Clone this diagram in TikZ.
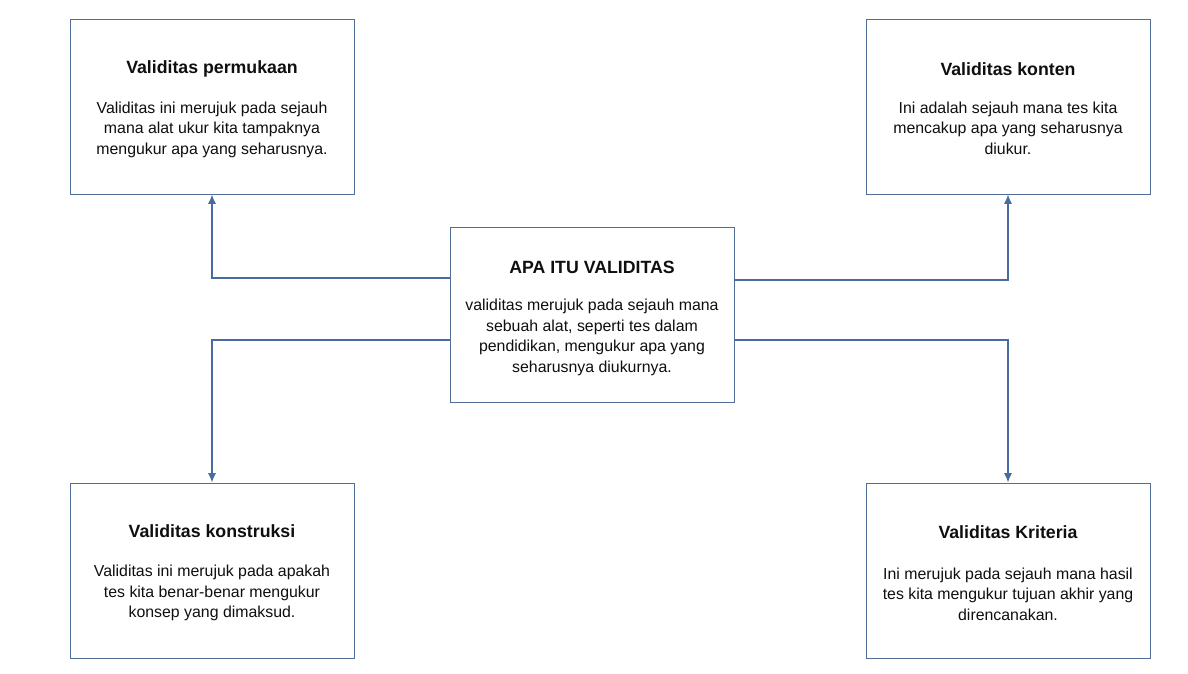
\documentclass[tikz,border=0pt]{standalone}
\usepackage{fontspec}
\setmainfont{Liberation Sans}
\usetikzlibrary{arrows.meta}
\definecolor{edge}{RGB}{72,108,160}
\definecolor{frame}{RGB}{80,110,150}
\definecolor{ink}{RGB}{15,15,15}
\tikzset{
  card/.style={draw=frame, line width=0.65pt, minimum width=284*0.75pt, minimum height=175*0.75pt, inner sep=0pt, fill=white},
  ttl/.style={font=\bfseries\fontsize{13.3}{16}\selectfont, text=ink, inner sep=0pt},
  body/.style={font=\fontsize{11.9}{15.4}\selectfont, text=ink, align=center, inner sep=0pt},
  arr/.style={draw=edge, line width=1.1pt, -{Latex[length=7pt,width=6pt]}},
}
\begin{document}
\begin{tikzpicture}[x=0.75pt,y=-0.75pt]
\useasboundingbox (0,0) rectangle (1188,674);
\fill[white] (0,0) rectangle (1188,674);
% boxes
\node[card] (tl) at (212,106.5) {};
\node[card] (tr) at (1008,106.5) {};
\node[card] (c) at (592,314.5) {};
\node[card] (bl) at (212,570.5) {};
\node[card] (br) at (1008,570.5) {};
% titles
\node[ttl] (tlt) at (212,69) {Validitas permukaan};
\node[ttl] (trt) at (1008,69) {Validitas konten};
\node[ttl] (ct) at (592,267) {APA ITU VALIDITAS};
\node[ttl] (blt) at (212,531) {Validitas konstruksi};
\node[ttl] (brt) at (1008,532) {Validitas Kriteria};
% bodies
\node[body] (tlb) at (212,129.5) {Validitas ini merujuk pada sejauh\\mana alat ukur kita tampaknya\\mengukur apa yang seharusnya.};
\node[body] (trb) at (1008,128) {Ini adalah sejauh mana tes kita\\mencakup apa yang seharusnya\\diukur.};
\node[body] (cb) at (592,337.5) {validitas merujuk pada sejauh mana\\sebuah alat, seperti tes dalam\\pendidikan, mengukur apa yang\\seharusnya diukurnya.};
\node[body] (blb) at (212,593) {Validitas ini merujuk pada apakah\\tes kita benar-benar mengukur\\konsep yang dimaksud.};
\node[body] (brb) at (1008,594) {Ini merujuk pada sejauh mana hasil\\tes kita mengukur tujuan akhir yang\\direncanakan.};
% connectors
\draw[arr] (c.west |- 0,278) -| (tl.south);
\draw[arr] (c.west |- 0,340) -| (bl.north);
\draw[arr] (c.east |- 0,280) -| (tr.south);
\draw[arr] (c.east |- 0,340) -| (br.north);
\end{tikzpicture}
\end{document}
